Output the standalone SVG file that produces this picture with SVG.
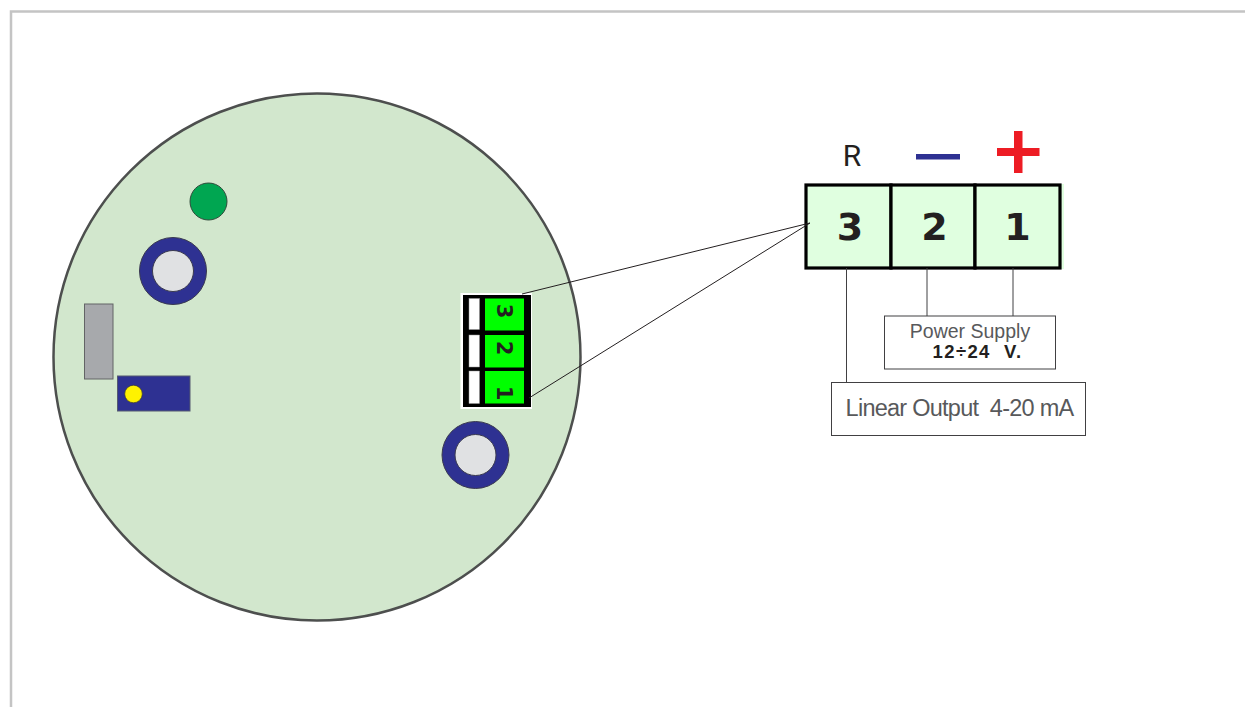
<svg xmlns="http://www.w3.org/2000/svg" width="1245" height="707" viewBox="0 0 1245 707">
<style>
.ln{stroke:#414042;stroke-width:1;fill:none}
.th{stroke:#231f20;stroke-width:1;fill:none}
.ring{fill:#2e3192;stroke:#3a3a50;stroke-width:1}
.hole{fill:#e0e1e3;stroke:#3a3a50;stroke-width:1}
.slot{fill:#fff;stroke:#999;stroke-width:.5}
.grn{fill:#00ff00}
.sm{font:700 21px "DejaVu Sans",sans-serif;fill:#231f20;text-anchor:middle}
.big{font:700 38px "DejaVu Sans",sans-serif;fill:#231f20;text-anchor:middle}
.box{fill:#fff;stroke:#414042;stroke-width:1}
.lab{font-family:"Liberation Sans",Arial,sans-serif;fill:#58595b}
.cell{fill:#e0ffe0;stroke:#000;stroke-width:3.2}
</style>
<rect width="1245" height="707" fill="#fff"/>
<path id="page-border" d="M11 707V11.500H1245" fill="none" stroke="#c4c4c4" stroke-width="2.500"/>
<g id="board">
<circle cx="317" cy="357" r="263.500" fill="#d2e7cd" stroke="#4d4f4e" stroke-width="2.500"/>
</g>
<g id="led"><circle cx="208.500" cy="201.500" r="18.500" fill="#00a651" stroke="#2e4a3a" stroke-width="1"/></g>
<g id="mount-top"><circle class="ring" cx="173" cy="271" r="33.500"/><circle class="hole" cx="173" cy="271" r="20.500"/></g>
<g id="mount-bottom"><circle class="ring" cx="475.500" cy="455" r="33.500"/><circle class="hole" cx="475.500" cy="455" r="20.500"/></g>
<g id="grey-block"><rect x="84.500" y="304" width="28.500" height="75" fill="#a7a9ac" stroke="#636466" stroke-width="1"/></g>
<g id="blue-block">
<rect x="117.500" y="376" width="72.500" height="35" fill="#2e3192" stroke="#555a70" stroke-width="1"/>
<circle cx="133.500" cy="394" r="8.800" fill="#fff200" stroke="#3a3a30" stroke-width=".7"/>
</g>
<g id="small-terminal">
<rect x="460.500" y="293" width="71.500" height="116" fill="#fff"/>
<rect x="463" y="295" width="68" height="112" fill="#000"/>
<rect class="slot" x="469" y="298.500" width="10.500" height="31"/>
<rect class="slot" x="469" y="335" width="10.500" height="32"/>
<rect class="slot" x="469" y="371" width="10.500" height="32.500"/>
<rect class="grn" x="485" y="298.500" width="39" height="32"/>
<rect class="grn" x="485" y="335" width="39" height="32.500"/>
<rect class="grn" x="485" y="371" width="39" height="32.500"/>
<text class="sm" transform="translate(497 311) rotate(90)">3</text>
<text class="sm" transform="translate(497 348) rotate(90)">2</text>
<text class="sm" transform="translate(497 393) rotate(90)">1</text>
</g>
<g id="big-terminal">
<rect x="806" y="184" width="258" height="85" fill="#e0ffe0"/>
<rect class="cell" x="806" y="185" width="85" height="83"/>
<rect class="cell" x="891" y="185" width="84" height="83"/>
<rect class="cell" x="975" y="185" width="85" height="83"/>
<text class="big" x="850" y="240">3</text>
<text class="big" x="934.500" y="240">2</text>
<text class="big" x="1017.500" y="240">1</text>
</g>
<g id="connectors">
<path class="th" d="M522 294L810 223M529 398L810 223"/>
<path class="ln" d="M846.500 268V383M927 268V316M1013 268V316"/>
</g>
<g id="polarity">
<text x="852" y="165.500" font-family="Roboto,Arial,sans-serif" font-size="30" fill="#231f20" text-anchor="middle">R</text>
<rect id="minus" x="916" y="154" width="44" height="5.500" fill="#2e3192"/>
<path id="plus" d="M1014 131h8.500v17h17v8h-17v17h-8.500v-17h-17v-8h17z" fill="#ed1c24"/>
</g>
<g id="power-supply">
<rect class="box" x="884.500" y="316" width="171" height="53"/>
<text class="lab" x="970" y="338" font-size="19.500" text-anchor="middle">Power Supply</text>
<text x="977.500" y="358" font-family="Liberation Sans,Arial,sans-serif" font-size="18.500" font-weight="700" fill="#231f20" text-anchor="middle" letter-spacing="1.400" xml:space="preserve">12÷24  V.</text>
</g>
<g id="linear-output">
<rect class="box" x="831.500" y="382.500" width="254" height="53"/>
<text class="lab" x="959.500" y="415.500" font-size="23.500" text-anchor="middle" letter-spacing="-.75" xml:space="preserve">Linear Output  4-20 mA</text>
</g>
</svg>
